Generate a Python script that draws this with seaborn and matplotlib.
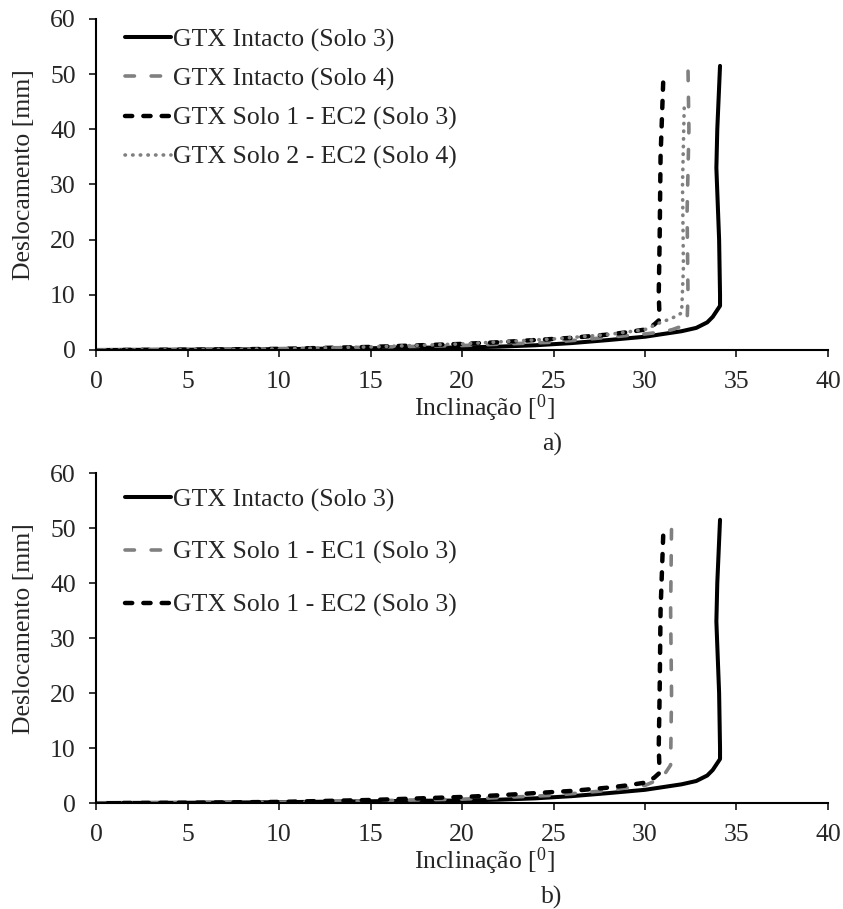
import numpy as np
import pandas as pd
import matplotlib
matplotlib.use('Agg')
import matplotlib.pyplot as plt
import seaborn as sns

# --- data (Inclinação [deg], Deslocamento [mm]) ---
intacto_s3_x = [0, 2, 5, 8, 10, 12, 15, 18, 20, 22, 24, 26, 28, 29, 30, 31, 32, 32.8, 33.4, 33.7, 33.9, 34.1, 34.1, 34.05, 33.9, 33.95, 34.1]
intacto_s3_y = [0, 0.02, 0.05, 0.1, 0.15, 0.22, 0.32, 0.42, 0.45, 0.6, 0.85, 1.25, 1.8, 2.1, 2.4, 2.9, 3.4, 4.0, 5.0, 6.0, 7.0, 8.0, 10, 20, 33, 40, 51.5]

intacto_s4_x = [0, 2, 5, 10, 15, 20, 25, 28, 30, 31, 31.5, 32.0, 32.3, 32.35, 32.3, 32.4, 32.35]
intacto_s4_y = [0, 0.03, 0.08, 0.25, 0.5, 0.8, 1.4, 2.3, 2.9, 3.3, 3.7, 4.3, 5.0, 10, 25, 40, 50.9]

ec2_s3_x = [1.5, 5, 10, 15, 20, 22, 24, 26, 28, 29, 30, 30.5, 30.8, 30.75, 30.8, 30.85, 31.0]
ec2_s3_y = [0, 0.05, 0.2, 0.55, 1.1, 1.4, 1.8, 2.2, 2.8, 3.2, 3.7, 4.6, 5.5, 10, 20, 35, 49.1]

solo2_ec2_s4_x = [0, 5, 10, 15, 20, 25, 28, 30, 30.8, 31.5, 32.0, 32.1, 32.05, 32.15]
solo2_ec2_s4_y = [0, 0.05, 0.2, 0.55, 1.1, 2.0, 2.8, 3.7, 4.9, 5.8, 6.7, 15, 30, 45]

ec1_s3_x = [0, 2, 5, 10, 15, 20, 25, 28, 30, 30.7, 31.1, 31.4, 31.45, 31.4, 31.45]
ec1_s3_y = [0, 0.02, 0.05, 0.15, 0.4, 0.7, 1.4, 2.3, 3.2, 4.2, 5.4, 6.9, 20, 35, 50.2]

x_ticks = [0, 5, 10, 15, 20, 25, 30, 35, 40]
y_ticks = [0, 10, 20, 30, 40, 50, 60]

sns.set_style('ticks')
plt.rcParams['font.family'] = ['Liberation Serif', 'DejaVu Serif']
plt.rcParams['mathtext.fontset'] = 'custom'
plt.rcParams['mathtext.rm'] = 'Liberation Serif'
plt.rcParams['lines.scale_dashes'] = False

FS = 18.5
GRAY = '#808080'

fig = plt.figure(figsize=(8.43, 9.09), dpi=100)
ax1 = fig.add_axes([0.1139, 0.6150, 0.8683, 0.3641])
ax2 = fig.add_axes([0.1139, 0.1166, 0.8683, 0.3630])

styles = {
    'solid': dict(color='black', lw=2.9, linestyle='-', solid_capstyle='round'),
    'gdash': dict(color=GRAY, lw=2.6, linestyle=(0, (6.8, 12.0)), dash_capstyle='round'),
    'bdash': dict(color='black', lw=3.2, linestyle=(0, (5.2, 8.0)), dash_capstyle='round'),
    'dot': dict(color=GRAY, lw=2.6, linestyle=(0, (0.3, 5.2)), dash_capstyle='round'),
}


def draw(ax, x, y, label, style):
    df = pd.DataFrame({'x': x, 'y': y})
    sns.lineplot(data=df, x='x', y='y', sort=False, estimator=None, ax=ax, label=label, **styles[style])


# a)
draw(ax1, intacto_s3_x, intacto_s3_y, 'GTX Intacto (Solo 3)', 'solid')
draw(ax1, intacto_s4_x, intacto_s4_y, 'GTX Intacto (Solo 4)', 'gdash')
draw(ax1, ec2_s3_x, ec2_s3_y, 'GTX Solo 1 - EC2 (Solo 3)', 'bdash')
draw(ax1, solo2_ec2_s4_x, solo2_ec2_s4_y, 'GTX Solo 2 - EC2 (Solo 4)', 'dot')

# b)
draw(ax2, intacto_s3_x, intacto_s3_y, 'GTX Intacto (Solo 3)', 'solid')
draw(ax2, ec1_s3_x, ec1_s3_y, 'GTX Solo 1 - EC1 (Solo 3)', 'gdash')
draw(ax2, ec2_s3_x, ec2_s3_y, 'GTX Solo 1 - EC2 (Solo 3)', 'bdash')

for ax, spacing, top, tag, ty in [(ax1, 0.615, 0.972, 'a)', 444), (ax2, 1.14, 0.954, 'b)', 897)]:
    ax.set_xlim(0, 40)
    ax.set_ylim(0, 60)
    ax.set_xticks(x_ticks)
    ax.set_yticks(y_ticks)
    ax.tick_params(axis='both', labelsize=FS, length=5, width=1.1, color='black', direction='out')
    ax.tick_params(axis='x', pad=10)
    ax.tick_params(axis='y', pad=9.5)
    for s in ['top', 'right']:
        ax.spines[s].set_visible(False)
    for s in ['left', 'bottom']:
        ax.spines[s].set_linewidth(1.5)
        ax.spines[s].set_color('black')
    ax.set_xlabel(r'Inclinação [$\mathregular{^0}$]', fontsize=FS, va='center')
    ax.set_ylabel('Deslocamento [mm]', fontsize=FS, va='center')
    ax.xaxis.set_label_coords(0.531, -0.176)
    ax.yaxis.set_label_coords(-0.098, 0.53)
    ax.legend(loc='upper left', bbox_to_anchor=(0.0396, top), frameon=False,
              fontsize=FS, handlelength=1.8, handletextpad=0.05,
              labelspacing=spacing, borderpad=0, borderaxespad=0)
    fig.text(552 / 843, 1 - ty / 909, tag, fontsize=FS, ha='center', va='center')

fig.savefig('out.png', dpi=100)
